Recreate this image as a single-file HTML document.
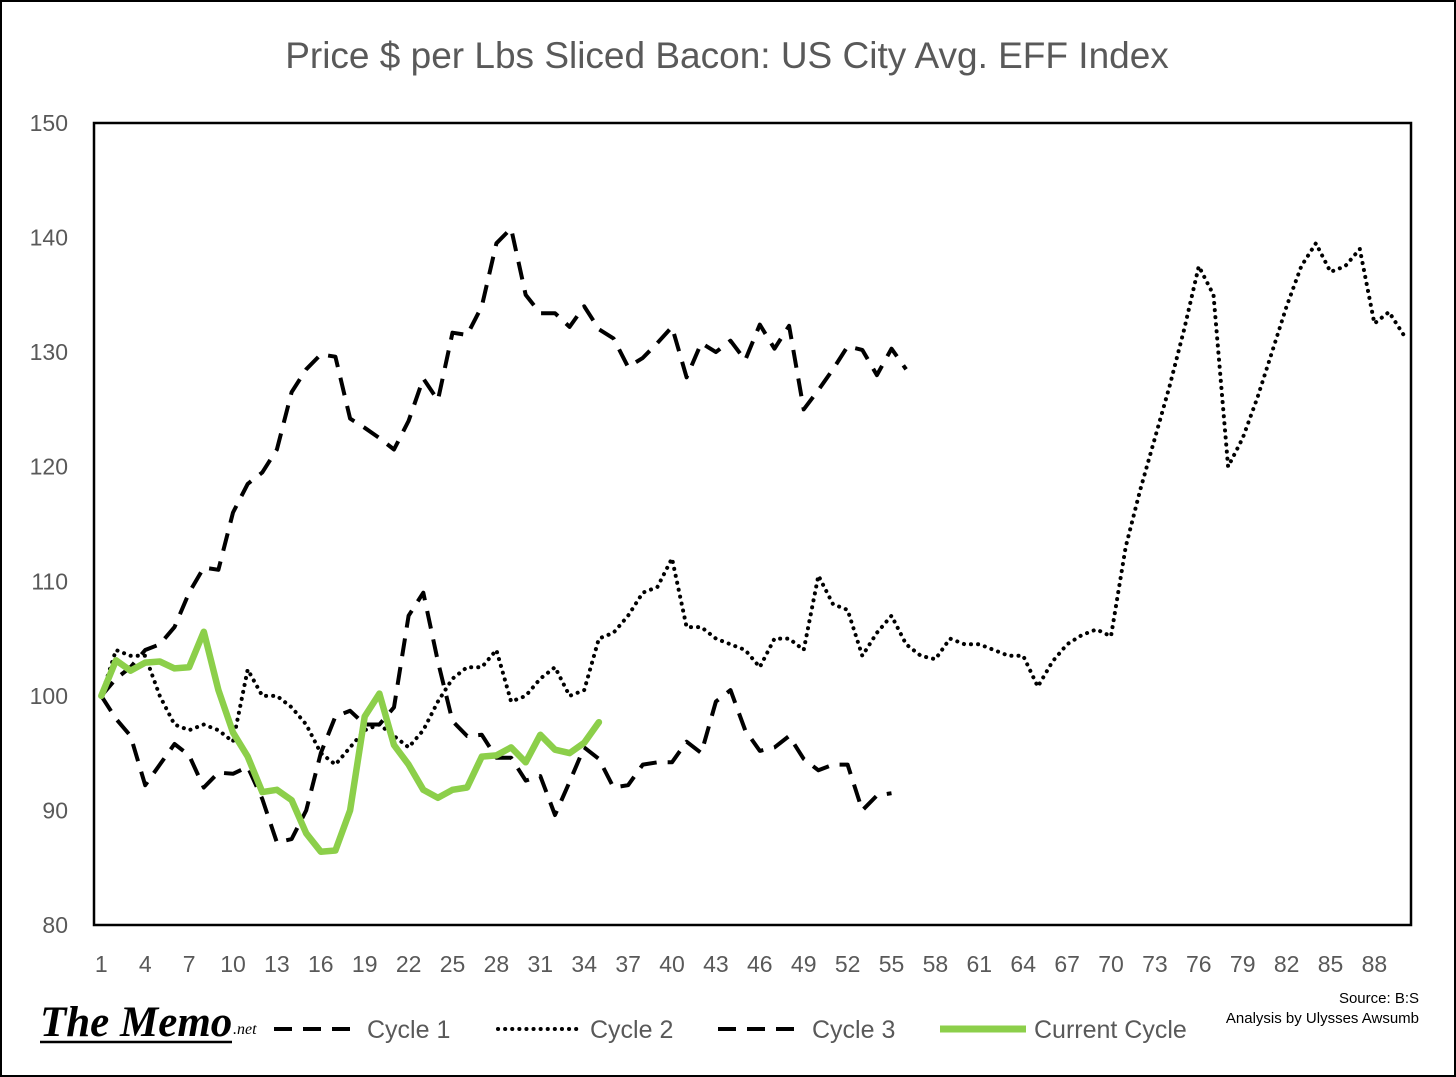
<!DOCTYPE html>
<html><head><meta charset="utf-8"><style>
html,body{margin:0;padding:0;background:#fff}
svg{display:block;font-family:"Liberation Sans",sans-serif}
</style></head><body>
<svg id="chart" width="1456" height="1077" viewBox="0 0 1456 1077">
<rect x="1" y="1" width="1454" height="1075" fill="#fff" stroke="#000" stroke-width="2"/>
<text x="727" y="68" text-anchor="middle" font-size="37" fill="#595959">Price $ per Lbs Sliced Bacon: US City Avg. EFF Index</text>
<rect x="94" y="123" width="1317" height="802" fill="none" stroke="#000" stroke-width="2.5"/>
<g id="yticks"></g><g id="xticks"></g><g id="series"></g>
<g>
<text x="40" y="1036" font-family="Liberation Serif,serif" font-size="43" font-weight="bold" font-style="italic" fill="#000">The Memo</text>
<text x="233" y="1034" font-family="Liberation Serif,serif" font-size="16" font-style="italic" fill="#000">.net</text>
<line x1="40" y1="1042" x2="232" y2="1042" stroke="#000" stroke-width="2.5"/>
<line x1="274" y1="1029" x2="358" y2="1029" stroke="#000" stroke-width="4" stroke-dasharray="18 11"/>
<text x="367" y="1038" font-size="25" fill="#595959">Cycle 1</text>
<line x1="498" y1="1029" x2="578" y2="1029" stroke="#000" stroke-width="4" stroke-linecap="round" stroke-dasharray="0.1 7"/>
<text x="590" y="1038" font-size="25" fill="#595959">Cycle 2</text>
<line x1="718" y1="1029" x2="802" y2="1029" stroke="#000" stroke-width="4" stroke-dasharray="18 11"/>
<text x="812" y="1038" font-size="25" fill="#595959">Cycle 3</text>
<line x1="940" y1="1029" x2="1026" y2="1029" stroke="#8ccf4a" stroke-width="7"/>
<text x="1034" y="1038" font-size="25" fill="#595959">Current Cycle</text>
</g>
<text x="1419" y="1003" text-anchor="end" font-size="15" fill="#000">Source: B:S</text>
<text x="1419" y="1023" text-anchor="end" font-size="15" fill="#000">Analysis by Ulysses Awsumb</text>
</svg>
<script>
const yTicks=[80,90,100,110,120,130,140,150];
const nCategories=90;
const cycle1=[100,101.5,102.5,104,104.5,106,109,111.2,111,116,118.5,119.5,121.5,126.5,128.5,129.8,129.6,124.2,123.4,122.5,121.5,124,127.7,125.8,131.7,131.5,134,139.5,140.8,135,133.4,133.4,132.2,134,132,131.2,128.7,129.5,130.8,132.2,127.8,130.8,130,131,129.3,132.4,130.3,132.3,125,126.7,128.5,130.5,130.2,128,130.3,128.5];
const cycle2=[100,104,103.5,103.5,100,97.5,97,97.5,97,96,102.3,100,100,99,97.5,95,94,95.5,97,97.5,96.5,95.5,97,99.5,101.5,102.5,102.5,104,99.5,100,101.5,102.5,100,100.5,105,105.5,107,109,109.5,112,106,106,105,104.5,104,102.5,105,105,104,110.5,108,107.5,103.5,105.5,107,104.5,103.5,103.2,105,104.5,104.5,104,103.5,103.5,100.8,103,104.5,105.3,105.8,105.2,113,118,122.5,127,132,137.5,135,120,122.5,126,130,134,137.5,139.5,137,137.5,139,132.5,133.5,131.5];
const cycle3=[100,98,96.5,92.2,94,95.8,94.8,92,93.3,93.2,93.8,91,87.2,87.5,90,95,98.2,98.7,97.5,97.5,99,107,109,103,97.8,96.5,96.6,94.6,94.6,92.6,93,89.6,92.5,95.5,94.5,92,92.2,94,94.2,94.2,96,95,99.5,100.5,97,95.2,95.5,96.5,94.5,93.5,94,94,90,91.3,91.5];
const current=[100,103.1,102.2,102.9,103,102.4,102.5,105.6,100.5,96.8,94.7,91.6,91.8,90.9,88,86.4,86.5,90,98.2,100.2,95.7,94,91.8,91.1,91.8,92,94.7,94.8,95.5,94.2,96.6,95.3,95,95.9,97.7];

const NS="http://www.w3.org/2000/svg";
const px0=94,px1=1411,py0=925,py1=123;
function xS(i){return px0+(i+0.5)*(px1-px0)/nCategories;}
function yS(v){return py0-(v-80)*(py0-py1)/70;}
const yg=document.getElementById('yticks');
yTicks.forEach(t=>{
  const e=document.createElementNS(NS,'text');
  e.setAttribute('x',68);e.setAttribute('y',yS(t)+8);
  e.setAttribute('text-anchor','end');e.setAttribute('font-size','23');e.setAttribute('fill','#595959');
  e.textContent=t;
  
  
  yg.appendChild(e);
});
const xg=document.getElementById('xticks');
for(let i=0;i<nCategories;i+=3){
  const e=document.createElementNS(NS,'text');
  e.setAttribute('x',xS(i));e.setAttribute('y',972);
  e.setAttribute('text-anchor','middle');e.setAttribute('font-size','23');e.setAttribute('fill','#595959');
  e.textContent=i+1;
  
  
  xg.appendChild(e);
}
const sg=document.getElementById('series');
function line(data,stroke,w,dash,cap,name){
  const p=document.createElementNS(NS,'path');
  p.setAttribute('d',data.map((v,i)=>(i?'L':'M')+xS(i).toFixed(1)+','+yS(v).toFixed(1)).join(''));
  p.setAttribute('fill','none');p.setAttribute('stroke',stroke);p.setAttribute('stroke-width',w);
  p.setAttribute('stroke-linejoin','round');
  if(dash)p.setAttribute('stroke-dasharray',dash);
  if(cap)p.setAttribute('stroke-linecap',cap);
  
  
  sg.appendChild(p);
}
line(cycle1,'#000',4,'18 11',null,'cycle1-line');
line(cycle2,'#000',4,'0.1 7','round','cycle2-line');
line(cycle3,'#000',4,'18 11',null,'cycle3-line');
line(current,'#8ccf4a',6.5,null,'round','current-cycle-line');
</script>
</body></html>
